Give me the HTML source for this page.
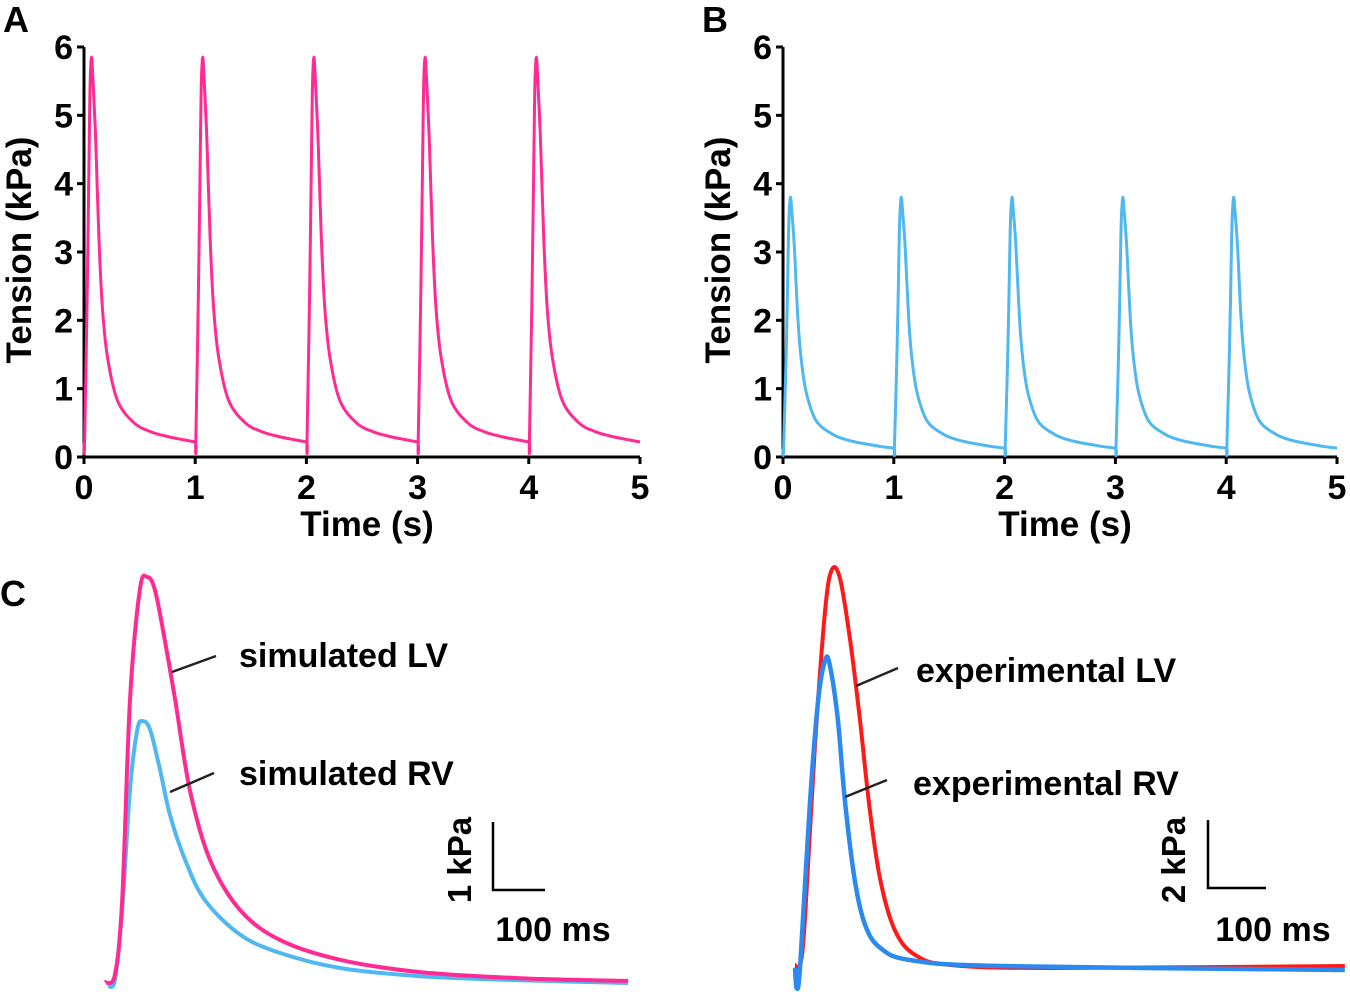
<!DOCTYPE html>
<html><head><meta charset="utf-8">
<style>
html,body{margin:0;padding:0;background:#fff;}
svg{display:block;font-family:"Liberation Sans",sans-serif;}
</style></head>
<body>
<svg id="fig" width="1350" height="1000" viewBox="0 0 1350 1000">
</svg>
<script>
// ---- data ----
const xTicks = [0,1,2,3,4,5];
const yTicks = [0,1,2,3,4,5,6];
const beatStarts = [0,1,2,3,4];
// Panel A single-beat waveform (time within beat s, tension kPa)
const beatTimeA = [0,0.005,0.03,0.05,0.058,0.068,0.078,0.09,0.105,0.135,0.165,0.21,0.3,0.45,0.6,0.75,0.9,1.0];
const beatValA  = [0.22,0.22,2.5,5.0,5.6,5.85,5.6,5.2,4.64,3.18,2.2,1.47,0.83,0.5,0.37,0.3,0.25,0.22];
// Panel B single-beat waveform
const beatTimeB = [0,0.005,0.03,0.05,0.058,0.068,0.078,0.09,0.105,0.135,0.165,0.21,0.3,0.45,0.6,0.75,0.9,1.0];
const beatValB  = [0.13,0.13,1.6,3.25,3.63,3.8,3.63,3.37,3.0,2.0,1.42,0.94,0.53,0.33,0.24,0.19,0.15,0.13];
// Panel C left (ms, kPa)
const simLVt = [0,19,33,48,67,81,96,115,135,163,202,260,337,452,606,798,1006];
const simLVv = [0.04,0.15,1.25,4.19,5.81,6.0,5.81,5.07,4.19,2.87,1.84,1.10,0.66,0.37,0.19,0.10,0.06];
const simRVt = [4,19,33,48,62,73,87,106,125,154,192,260,337,452,606,798,1006];
const simRVv = [0,0.07,1.10,2.87,3.75,3.88,3.75,3.16,2.5,1.84,1.25,0.74,0.47,0.25,0.13,0.07,0.03];
// Panel C right (ms, kPa)
const expLVt = [0,9,17,34,52,64,78,95,112,129,147,172,207,267,440,948];
const expLVv = [0.09,0.09,1.43,6.51,10.7,11.9,11.6,9.79,7.4,4.72,2.63,1.13,0.39,0.09,0,0.06];
const expRVt = [0,3,9,26,40,52,60,74,86,103,121,147,198,353,948];
const expRVv = [0,-0.6,0.09,5.0,8.0,9.19,9.04,7.4,5.0,2.63,1.28,0.6,0.24,0.06,-0.06];

const NS="http://www.w3.org/2000/svg";
const svg=document.getElementById('fig');
function mk(tag,attrs,parent){const e=document.createElementNS(NS,tag);for(const k in attrs)e.setAttribute(k,attrs[k]);(parent||svg).appendChild(e);return e;}
function txt(s,x,y,size,anchor,parent){const t=mk('text',{x:x,y:y,'font-size':size,'font-weight':'bold','text-anchor':anchor||'middle',fill:'#000'},parent);t.textContent=s;return t;}
function smooth(pts){
  let d='M'+pts[0][0].toFixed(1)+','+pts[0][1].toFixed(1);
  for(let i=0;i<pts.length-1;i++){
    const p0=pts[i-1]||pts[i],p1=pts[i],p2=pts[i+1],p3=pts[i+2]||p2;
    const c1=[p1[0]+(p2[0]-p0[0])/6,p1[1]+(p2[1]-p0[1])/6];
    const c2=[p2[0]-(p3[0]-p1[0])/6,p2[1]-(p3[1]-p1[1])/6];
    d+='C'+c1[0].toFixed(1)+','+c1[1].toFixed(1)+' '+c2[0].toFixed(1)+','+c2[1].toFixed(1)+' '+p2[0].toFixed(1)+','+p2[1].toFixed(1);
  }
  return d;
}
function pathFrom(ts,vs,sx,sy){const pts=ts.map((t,i)=>[sx(t),sy(vs[i])]);return smooth(pts);}

function topPanel(name,x0,x1,letter,bt,bv,color){
  const g=mk('g',{});
  
  
  const y0=457,y6=47;
  const sx=t=>x0+(x1-x0)*t/5, sy=v=>y0-(y0-y6)*v/6;
  const lt=txt(letter,x0-81,32,36,'start',g);
  
  
  const ax=mk('path',{d:`M${x0},${y6}V${y0}H${x1}`,stroke:'#000','stroke-width':3,fill:'none'},g);
  
  
  yTicks.forEach(v=>{mk('line',{x1:x0-7,x2:x0,y1:sy(v),y2:sy(v),stroke:'#000','stroke-width':3},g);
    const t=txt(String(v),x0-11,sy(v)+12,34,'end',g);
    
    });
  xTicks.forEach(v=>{mk('line',{x1:sx(v),x2:sx(v),y1:y0,y2:y0+7,stroke:'#000','stroke-width':3},g);
    const t=txt(String(v),sx(v),y0+42,34,'middle',g);
    
    });
  const xt=txt('Time (s)',(x0+x1)/2+5,536,35,'middle',g);
  
  
  const yt=txt('Tension (kPa)',0,0,35,'middle',g);
  yt.setAttribute('transform',`translate(${x0-53},250) rotate(-90)`);
  
  
  const pts=[];
  beatStarts.forEach((b,bi)=>{for(let i=0;i<bt.length;i++){const t=b+bt[i];if(t>5)break;if(bi>0&&i===0)continue;pts.push([sx(t),sy(bv[i])]);}});
  const p=mk('path',{d:smooth(pts),stroke:color,'stroke-width':3,fill:'none','stroke-linejoin':'round'},g);
  
  
}
topPanel('panel-a',84,640,'A',beatTimeA,beatValA,'#ff2a93');
topPanel('panel-b',783,1337,'B',beatTimeB,beatValB,'#4fb8f0');

const lc=txt('C',0,606,36,'start');



// Panel C left
(function(){
  const g=mk('g',{});
  
  
  const sx=t=>105+t*0.52, sy=v=>985-v*68;
  const rv=mk('path',{d:pathFrom(simRVt,simRVv,sx,sy),stroke:'#4fb8f0','stroke-width':4,fill:'none'},g);
  
  
  const lv=mk('path',{d:pathFrom(simLVt,simLVv,sx,sy),stroke:'#ff2a93','stroke-width':4,fill:'none'},g);
  
  
  mk('line',{x1:172,y1:672,x2:216,y2:656,stroke:'#222','stroke-width':2.5},g);
  mk('line',{x1:170,y1:792,x2:214,y2:773,stroke:'#222','stroke-width':2.5},g);
  const a=txt('simulated LV',239,667,34,'start',g);
  const b=txt('simulated RV',239,785,34,'start',g);
  const sb=mk('path',{d:'M493,822V890H545',stroke:'#000','stroke-width':2.5,fill:'none'},g);
  
  const k=txt('1 kPa',0,0,33,'middle',g);k.setAttribute('transform','translate(471,860) rotate(-90)');
  
  const m=txt('100 ms',553,941,34,'middle',g);
})();
// Panel C right
(function(){
  const g=mk('g',{});
  
  
  const sx=t=>795+t*0.58, sy=v=>968-v*33.5;
  const lv=mk('path',{d:pathFrom(expLVt,expLVv,sx,sy),stroke:'#ff1a1a','stroke-width':4,fill:'none'},g);
  
  
  const rv=mk('path',{d:pathFrom(expRVt,expRVv,sx,sy),stroke:'#2a8af0','stroke-width':4.5,fill:'none'},g);
  
  
  mk('line',{x1:856,y1:686,x2:898,y2:668,stroke:'#222','stroke-width':2.5},g);
  mk('line',{x1:845,y1:797,x2:887,y2:780,stroke:'#222','stroke-width':2.5},g);
  const a=txt('experimental LV',916,682,34,'start',g);
  const b=txt('experimental RV',913,795,34,'start',g);
  const sb=mk('path',{d:'M1208,820V888H1266',stroke:'#000','stroke-width':2.5,fill:'none'},g);
  
  const k=txt('2 kPa',0,0,33,'middle',g);k.setAttribute('transform','translate(1185,860) rotate(-90)');
  
  const m=txt('100 ms',1273,941,34,'middle',g);
})();
</script>
</body></html>
